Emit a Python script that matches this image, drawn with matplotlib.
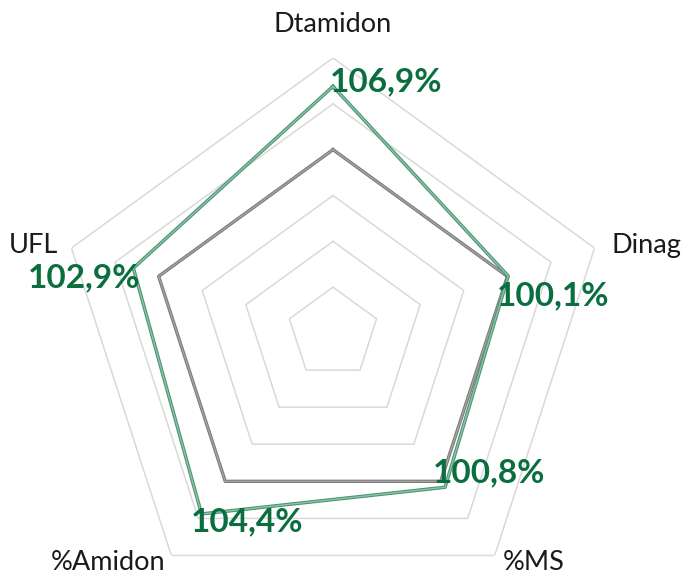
import numpy as np
import matplotlib.pyplot as plt

plt.rcParams['font.family'] = ['Lato', 'DejaVu Sans']

# radar data (values in %)
categories = ['Dtamidon', 'Dinag', '%MS', '%Amidon', 'UFL']
reference = [100, 100, 100, 100, 100]
ration = [106.9, 100.1, 100.8, 104.4, 102.9]
labels = ['106,9%', '100,1%', '100,8%', '104,4%', '102,9%']
rings = [85, 90, 95, 100, 105, 110]
r_min, r_max = 80, 110

n = len(categories)
theta = np.arange(n) * 2 * np.pi / n
theta_c = np.append(theta, theta[0])

fig = plt.figure(figsize=(6.84, 5.85), dpi=100)
ax = fig.add_axes([58 / 684, -23 / 585, 550 / 684, 550 / 585], projection='polar')
ax.set_theta_offset(np.pi / 2)
ax.set_theta_direction(-1)
ax.set_ylim(r_min, r_max)
ax.grid(False)
ax.spines['polar'].set_visible(False)
ax.set_xticks([])
ax.set_yticks([])
ax.patch.set_alpha(0)

# pentagon grid
for r in rings:
    ax.plot(theta_c, [r] * (n + 1), color='#d9d9d9', lw=1.1, zorder=1)

# series
ax.plot(theta_c, reference + reference[:1], color='#7a7a7a', lw=2.4, zorder=2)
ax.plot(theta_c, reference + reference[:1], color='#a6a6a6', lw=0.9, zorder=2)
ax.plot(theta_c, ration + ration[:1], color='#4f9474', lw=2.5, zorder=3)
ax.plot(theta_c, ration + ration[:1], color='#8fc6ab', lw=0.9, zorder=3)

# category labels
cat_offsets = [(0, 33, 'center'), (17, 3, 'left'), (8, -7, 'left'),
               (-6, -7, 'right'), (-13, 3, 'right')]
for t, name, (dx, dy, ha) in zip(theta, categories, cat_offsets):
    ax.annotate(name, xy=(t, r_max), xytext=(dx, dy), textcoords='offset pixels',
                ha=ha, va='center', fontsize=19.5, color='#1a1a1a',
                annotation_clip=False)

# value labels
val_offsets = [(-3, 5, 'left'), (-11, -20, 'left'), (-12, 14, 'left'),
               (-11, -8, 'left'), (7, -10, 'right')]
for t, v, lab, (dx, dy, ha) in zip(theta, ration, labels, val_offsets):
    ax.annotate(lab, xy=(t, v), xytext=(dx, dy), textcoords='offset pixels',
                ha=ha, va='center', fontsize=24, fontweight='bold',
                color='#0b6e3f', zorder=5, annotation_clip=False)

fig.savefig('out.png', dpi=100)
